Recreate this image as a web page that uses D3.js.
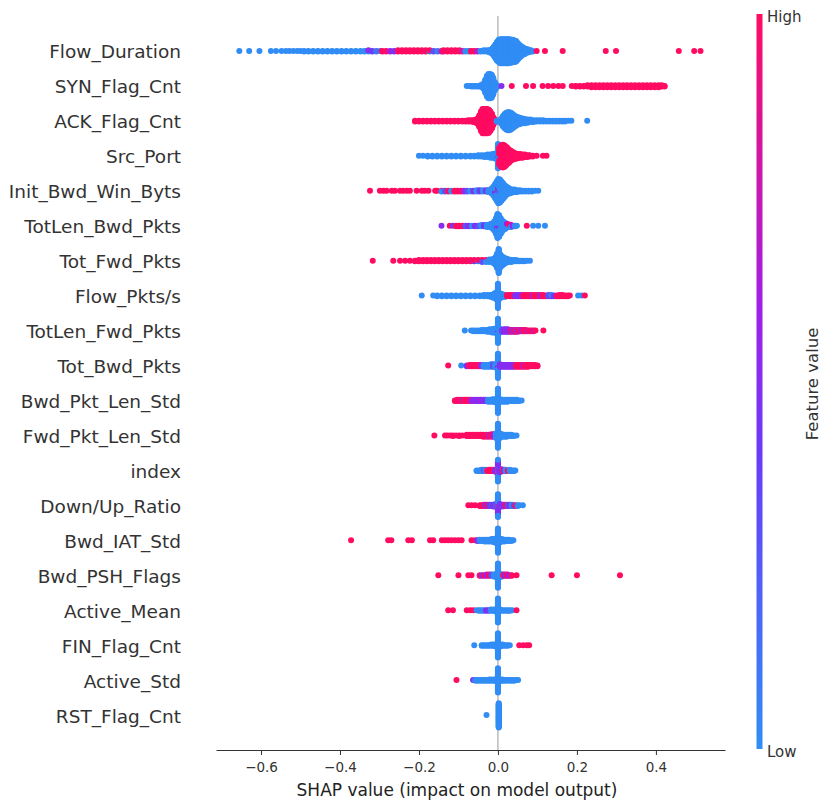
<!DOCTYPE html>
<html><head><meta charset="utf-8">
<script src="https://cdn.jsdelivr.net/npm/d3@7"></script>
<style>body{margin:0;background:#fff} svg{display:block}</style>
</head><body>
<svg id="chart" width="830" height="808"></svg>
<script>
// ---------- DATA ----------
// each entry: [SHAP value, normalised feature value (0 = low, 1 = high), number of points in that stack]
const features = ["Flow_Duration","SYN_Flag_Cnt","ACK_Flag_Cnt","Src_Port","Init_Bwd_Win_Byts","TotLen_Bwd_Pkts","Tot_Fwd_Pkts","Flow_Pkts/s","TotLen_Fwd_Pkts","Tot_Bwd_Pkts","Bwd_Pkt_Len_Std","Fwd_Pkt_Len_Std","index","Down/Up_Ratio","Bwd_IAT_Std","Bwd_PSH_Flags","Active_Mean","FIN_Flag_Cnt","Active_Std","RST_Flag_Cnt"];

const flowDuration = [
 [-0.655,0,1],[-0.63,0,1],[-0.604,0,1],[-0.575,0,1],[-0.562,0,1],[-0.548,0,1],[-0.537,0,1],[-0.528,0,1],[-0.518,0,1],[-0.508,0,1],[-0.5,0,1],[-0.491,0,2],
 [-0.48,0,2],[-0.468,0,2],[-0.456,0,2],[-0.444,0,2],[-0.432,0,2],[-0.42,0,2],[-0.408,0,2],[-0.396,0,2],[-0.384,0,2],[-0.372,0,2],[-0.36,0,2],[-0.348,0,2],[-0.338,0,2],
 [-0.328,0.55,2],[-0.328,0,1],[-0.318,0.4,2],[-0.308,0.15,2],[-0.298,0.2,1],[-0.293,1,2],[-0.283,1,2],[-0.273,0.6,2],[-0.263,0.45,2],
 [-0.253,1,3],[-0.243,1,3],[-0.233,1,3],[-0.223,1,3],[-0.213,1,3],[-0.203,1,3],[-0.193,1,3],[-0.183,1,3],[-0.173,1,2],[-0.173,0,1],
 [-0.163,0.3,2],[-0.153,0.1,2],[-0.143,0.7,2],[-0.138,1,3],[-0.128,1,3],[-0.118,1,3],[-0.108,1,3],[-0.098,1,3],[-0.09,0.8,2],
 [-0.082,0,2],[-0.074,0,2],[-0.068,1,2],[-0.06,1,2],[-0.052,0.7,2],[-0.044,0,2],[-0.036,0,3],[-0.028,0,3],[-0.022,0,4],
 [-0.018,0,6],[-0.014,0,10],[-0.01,0,16],[-0.006,0,24],[-0.002,0,32],[0.002,0,37],[0.006,0,40],[0.01,0,40],[0.014,0,40],[0.018,0,40],[0.022,0,40],[0.026,0,40],[0.03,0,39],[0.034,0,38],[0.038,0,37],[0.042,0,36],
 [0.046,0,34],[0.05,0,28],[0.054,0,22],[0.058,0,18],[0.063,0,13],[0.068,0,10],[0.073,0,7],[0.078,0,5],[0.083,0,3],[0.088,0,2],
 [0.098,1,1],[0.119,1,1],[0.164,1,1],[0.273,1,1],[0.299,1,1],[0.458,1,1],[0.497,1,1],[0.513,1,1]
];
const synFlagCnt = [
 [-0.079,0,1],[-0.073,0,1],[-0.067,0,2],[-0.061,0,2],[-0.055,0,2],[-0.049,0,2],[-0.044,0,3],[-0.04,0,5],[-0.036,0,10],[-0.032,0,22],[-0.028,0,34],[-0.024,0,40],[-0.02,0,40],[-0.016,0,38],[-0.012,0,28],[-0.008,0,14],[-0.004,0,6],[-0.001,0,2],
 [0.009,0.5,1],[0.035,1,1],[0.071,1,1],[0.089,1,1],[0.113,1,1],[0.127,1,1],[0.14,1,1],[0.153,1,1],[0.164,1,1],
 [0.187,1,1],[0.197,1,2],[0.207,1,2],[0.217,1,2],[0.227,1,3],[0.237,1,4],[0.247,1,4],[0.257,1,4],[0.267,1,4],[0.277,1,4],[0.287,1,4],[0.297,1,4],[0.307,1,4],[0.317,1,4],[0.327,1,4],
 [0.337,1,4],[0.347,1,4],[0.357,1,4],[0.367,1,4],[0.377,1,4],[0.387,1,4],[0.397,1,4],[0.407,1,4],[0.415,1,3],[0.422,1,2]
];
const ackFlagCnt = [
 [-0.21,1,2],[-0.2,1,2],[-0.19,1,2],[-0.18,1,2],[-0.17,1,2],[-0.16,1,2],[-0.15,1,2],[-0.14,1,2],[-0.13,1,2],[-0.12,1,2],[-0.11,1,2],[-0.1,1,2],[-0.09,1,2],
 [-0.082,1,2],[-0.075,1,3],[-0.068,1,3],[-0.062,1,4],[-0.056,1,6],[-0.051,1,10],[-0.047,1,20],[-0.043,1,32],[-0.039,1,40],[-0.035,1,40],[-0.031,1,40],[-0.027,1,40],[-0.023,1,38],[-0.019,1,32],[-0.015,1,24],[-0.012,1,14],[-0.009,1,7],[-0.006,1,3],
 [-0.003,0,2],[0.001,0,2],[0.005,0,4],[0.009,0,10],[0.013,0,18],[0.017,0,24],[0.021,0,28],[0.025,0,30],[0.029,0,30],[0.033,0,28],[0.037,0,24],[0.041,0,20],[0.046,0,16],[0.051,0,13],[0.056,0,11],[0.062,0,9],[0.068,0,8],
 [0.075,0,6],[0.082,0,5],[0.09,0,4],[0.098,0,3],[0.106,0,3],[0.114,0,3],[0.122,0,2],[0.13,0,2],[0.138,0,2],[0.146,0,2],[0.154,0,2],[0.162,0,2],[0.17,0,2],[0.178,0,1],[0.186,0,1],[0.226,0,1]
];
const srcPort = [
 [-0.2,0,1],[-0.19,0,1],[-0.178,0,2],[-0.166,0,2],[-0.154,0,2],[-0.142,0,2],[-0.13,0,2],[-0.118,0,2],[-0.106,0,2],[-0.094,0,2],[-0.082,0,2],[-0.07,0,2],[-0.06,0,2],
 [-0.05,0,3],[-0.042,0,3],[-0.034,0,4],[-0.026,0,5],[-0.019,0,6],[-0.013,0,7],[-0.008,0,8],[-0.004,0,10],[0,0,36],[0,0.5,4],
 [0.004,1,24],[0.004,0,6],[0.008,1,36],[0.012,1,38],[0.016,1,36],[0.02,1,32],[0.024,1,27],[0.028,1,22],[0.033,1,17],[0.038,1,13],[0.044,1,10],[0.05,1,8],[0.056,1,7],[0.062,1,6],[0.068,1,5],[0.074,1,4],[0.08,1,3],[0.088,1,2],[0.098,1,1],[0.114,1,1],[0.123,1,1]
];
const initBwdWinByts = [
 [-0.324,1,1],[-0.299,1,1],[-0.29,1,1],[-0.282,1,1],[-0.269,1,1],[-0.261,1,1],[-0.248,1,1],[-0.24,1,1],[-0.231,1,1],[-0.223,1,1],[-0.206,1,1],[-0.193,1,1],[-0.185,1,1],[-0.176,1,1],[-0.159,1,1],[-0.154,1,1],
 [-0.143,1,1],[-0.143,0,1],[-0.134,0.3,2],[-0.126,1,2],[-0.118,0,2],[-0.11,1,2],[-0.102,1,2],[-0.094,1,2],[-0.086,0.6,2],[-0.078,0.3,2],[-0.07,0,2],[-0.062,0.5,2],[-0.054,0,3],[-0.046,0.4,3],[-0.038,0,3],[-0.03,0.5,3],[-0.024,0,4],[-0.019,0,6],
 [-0.015,0,10],[-0.011,0,16],[-0.007,0,18],[-0.007,0.45,6],[-0.003,0,26],[-0.003,0.45,6],[0.001,0,31],[0.001,0.45,6],[0.001,1,3],[0.005,0,32],[0.005,0.45,6],[0.009,0,32],[0.013,0,26],[0.017,0,20],[0.021,0,15],[0.026,0,11],[0.031,0,8],
 [0.036,0,6],[0.042,0,5],[0.048,0,4],[0.055,0,3],[0.062,0,2],[0.07,0,2],[0.078,0,2],[0.086,0,2],[0.094,0,1],[0.102,0,1]
];
const totLenBwdPkts = [
 [-0.143,0.5,1],[-0.122,1,1],[-0.114,0.4,1],[-0.106,1,2],[-0.098,1,2],[-0.09,1,2],[-0.082,0.3,2],[-0.074,0.5,2],[-0.066,0,2],[-0.058,0.5,2],[-0.05,0.3,2],[-0.042,0,3],[-0.035,0.4,3],[-0.028,0,4],[-0.022,0,5],
 [-0.017,0,7],[-0.013,0,10],[-0.009,0,16],[-0.005,0,26],[-0.001,0,34],[-0.001,0.5,6],[0.003,0,30],[0.003,0.5,6],[0.007,0,22],[0.007,0.5,4],[0.011,0,18],[0.015,0,13],[0.019,0,10],
 [0.023,0.6,4],[0.023,0,3],[0.028,1,3],[0.028,0,2],[0.033,0.8,2],[0.033,0,2],[0.038,0.6,2],[0.043,0,2],[0.048,0,1],[0.073,1,1],[0.089,0,1],[0.102,0,1],[0.119,0,1]
];
const totFwdPkts = [
 [-0.317,1,1],[-0.265,1,1],[-0.248,1,1],[-0.235,1,1],[-0.223,1,1],[-0.21,1,2],[-0.2,1,3],[-0.19,1,3],[-0.18,1,3],[-0.17,1,3],[-0.16,1,3],[-0.15,1,3],[-0.14,1,3],[-0.13,1,3],[-0.12,1,3],[-0.11,1,3],[-0.1,1,3],[-0.09,1,3],[-0.08,1,3],
 [-0.07,1,3],[-0.06,1,2],[-0.06,0.4,1],[-0.05,1,2],[-0.05,0,1],[-0.04,1,2],[-0.04,0.3,2],[-0.03,1,2],[-0.03,0,2],[-0.022,1,2],[-0.022,0,3],[-0.016,0,5],[-0.011,0,8],[-0.006,0,14],[-0.002,0,24],
 [0.002,0,40],[0.006,0,22],[0.01,0,16],[0.014,0,12],[0.018,0,9],[0.023,0,7],[0.028,0,5],[0.034,0,4],[0.04,0,3],[0.046,0,3],[0.053,0,2],[0.06,0,2],[0.067,0,2],[0.074,0,1],[0.081,0,1]
];
const flowPktsS = [
 [-0.193,0,1],[-0.164,0,1],[-0.154,0,2],[-0.142,0,2],[-0.13,0,2],[-0.118,0,2],[-0.106,0,2],[-0.094,0,2],[-0.082,0,2],[-0.07,0,2],[-0.058,0,2],[-0.046,0,2],[-0.036,0,3],[-0.027,0,3],[-0.019,0,4],[-0.013,0,6],[-0.008,0,9],[-0.004,0,12],
 [0,0,40],[0.004,0,10],[0.008,0,7],[0.013,0,5],[0.018,0,4],
 [0.023,1,3],[0.03,1,3],[0.037,1,3],[0.044,0.5,3],[0.051,0.45,3],[0.058,0.6,3],[0.065,1,3],[0.072,1,3],[0.079,1,3],[0.086,0.8,3],[0.093,1,3],[0.1,1,3],[0.107,0.7,3],[0.114,1,3],[0.121,1,2],
 [0.128,0.3,3],[0.135,0.1,2],[0.135,0.5,1],[0.142,0.4,2],[0.149,1,2],[0.156,1,3],[0.163,1,3],[0.17,1,2],[0.177,1,2],[0.182,1,1],[0.203,0,1],[0.212,0,1],[0.22,1,1]
];
const totLenFwdPkts = [
 [-0.084,0,1],[-0.068,0,1],[-0.062,0,2],[-0.055,0,2],[-0.048,0,2],[-0.041,0,3],[-0.034,0,3],[-0.027,0,4],[-0.021,0,5],[-0.015,0,6],[-0.01,0,7],[-0.005,0,8],[0,0,36],[0,0.5,4],
 [0.005,0,5],[0.005,1,2],[0.01,0.3,4],[0.015,0.5,5],[0.02,0.55,5],[0.025,0.5,5],[0.03,0.6,4],[0.035,1,4],[0.04,0.5,4],[0.045,1,4],[0.05,0.7,4],[0.055,1,3],[0.06,0.6,3],[0.065,1,3],[0.07,1,3],[0.075,0.8,2],[0.08,1,2],[0.085,1,2],[0.09,0.8,2],[0.095,1,1],[0.115,1,1]
];
const totBwdPkts = [
 [-0.126,1,1],[-0.093,0,1],[-0.079,0.5,2],[-0.072,1,3],[-0.066,1,3],[-0.06,1,3],[-0.054,1,3],[-0.048,1,3],[-0.042,0.6,3],[-0.036,0,4],[-0.03,0,4],[-0.024,0,4],[-0.018,0,5],[-0.012,0.3,5],[-0.006,0,6],[0,0,34],[0,0.5,6],
 [0.005,0.5,5],[0.01,0.45,4],[0.015,0.55,4],[0.02,0.5,4],[0.025,0.4,4],[0.03,0.6,4],[0.035,0.5,4],[0.04,0.5,4],[0.046,1,4],[0.052,1,4],[0.058,1,4],[0.064,0.8,4],[0.07,1,4],[0.076,1,4],[0.082,1,3],[0.088,1,3],[0.094,1,3],[0.1,1,2]
];
const bwdPktLenStd = [
 [-0.109,1,2],[-0.103,1,3],[-0.097,1,3],[-0.091,0.8,3],[-0.085,1,3],[-0.079,1,3],[-0.073,1,3],[-0.067,0.6,3],[-0.061,0.5,3],[-0.055,0.55,3],[-0.049,0.5,3],[-0.043,0.6,3],[-0.037,0.45,3],[-0.031,0.5,3],
 [-0.025,0,4],[-0.019,0,4],[-0.013,0,5],[-0.007,0,6],[0,0,40],[0.006,0,5],[0.012,0,4],[0.018,0,4],[0.024,0,4],[0.03,0,3],[0.036,0,3],[0.042,0,3],[0.048,0,3],[0.054,0,2],[0.06,0,1]
];
const fwdPktLenStd = [
 [-0.161,1,1],[-0.134,1,1],[-0.128,1,1],[-0.121,1,1],[-0.114,1,2],[-0.106,1,1],[-0.098,1,2],[-0.09,1,1],[-0.079,1,3],[-0.072,1,3],[-0.065,1,3],[-0.058,1,3],[-0.051,1,3],[-0.044,1,3],[-0.037,1,4],[-0.03,1,4],[-0.023,0.8,4],[-0.016,1,5],[-0.01,0.6,5],[-0.005,0,8],
 [0,0,38],[0,1,2],[0.005,0,8],[0.01,0,5],[0.016,0,4],[0.022,0,4],[0.028,0,3],[0.034,0,3],[0.04,0,2],[0.047,0,1]
];
const indexCol = [
 [-0.054,0,2],[-0.048,0,2],[-0.042,0,3],[-0.036,0.2,3],[-0.03,0,3],[-0.027,1,2],[-0.022,1,3],[-0.017,1,3],[-0.012,1,3],[-0.007,0.5,4],[-0.003,0.6,6],[0,0.5,14],[0,0,16],[0,1,6],
 [0.004,0.5,6],[0.008,0.4,5],[0.012,1,3],[0.016,0.5,3],[0.02,0,3],[0.025,1,2],[0.03,0,3],[0.035,0,2],[0.04,0,2],[0.044,0,1]
];
const downUpRatio = [
 [-0.075,1,1],[-0.067,1,1],[-0.058,1,1],[-0.046,1,2],[-0.041,1,2],[-0.036,1,3],[-0.031,0.5,3],[-0.026,1,3],[-0.021,0.45,3],[-0.016,0.3,3],[-0.011,0.5,4],[-0.006,0.3,5],[0,0,20],[0,0.5,14],[0,1,4],
 [0.005,0.5,5],[0.01,0.4,4],[0.015,0.6,3],[0.02,1,3],[0.025,0.3,3],[0.03,0.5,3],[0.035,0,3],[0.04,0.3,2],[0.045,1,2],[0.05,0,2],[0.055,0,1],[0.063,0,1]
];
const bwdIatStd = [
 [-0.372,1,1],[-0.278,1,1],[-0.27,1,1],[-0.227,1,1],[-0.218,1,1],[-0.172,1,1],[-0.164,1,1],[-0.142,1,1],[-0.134,1,1],[-0.126,1,1],[-0.118,1,1],[-0.109,1,1],[-0.1,1,1],[-0.092,1,1],[-0.067,1,1],[-0.058,1,1],
 [-0.052,0.5,2],[-0.046,0,3],[-0.04,0,3],[-0.034,0,4],[-0.028,0,4],[-0.022,0,4],[-0.016,0,5],[-0.01,0,6],[-0.005,0,8],[0,0,40],[0.005,0,6],[0.01,0,5],[0.016,0,4],[0.022,0,3],[0.028,0,3],[0.034,0,2],[0.039,0,1]
];
const bwdPshFlags = [
 [-0.151,1,1],[-0.1,1,1],[-0.075,1,1],[-0.067,1,1],[-0.046,1,2],[-0.04,0.5,2],[-0.034,1,2],[-0.028,0.6,3],[-0.022,1,3],[-0.016,0.3,3],[-0.01,0,4],[-0.005,0,6],[0,0,38],[0,0.5,2],
 [0.005,0,6],[0.01,0,4],[0.014,1,3],[0.019,0.5,3],[0.024,1,3],[0.029,0.6,2],[0.035,1,2],[0.047,1,1],[0.136,1,1],[0.2,1,1],[0.309,1,1]
];
const activeMean = [
 [-0.126,1,1],[-0.114,1,1],[-0.079,1,1],[-0.07,1,1],[-0.062,1,1],[-0.054,0,1],[-0.048,0,2],[-0.042,0,2],[-0.036,0,2],[-0.03,0.5,2],[-0.024,0.45,2],[-0.018,0,3],[-0.012,0,3],[-0.006,0,4],[0,0,40],
 [0.006,0,3],[0.012,0,2],[0.018,0,2],[0.024,0,2],[0.03,0,2],[0.036,0,1],[0.047,1,1]
];
const finFlagCnt = [
 [-0.06,0,1],[-0.041,0,2],[-0.035,0,2],[-0.029,0,2],[-0.023,0,2],[-0.017,0,3],[-0.011,0,3],[-0.006,0,4],[0,0,40],[0.006,0,4],[0.012,0,3],[0.018,0,2],[0.024,0,2],[0.03,0,1],
 [0.054,1,1],[0.064,1,1],[0.073,1,1],[0.079,1,1]
];
const activeStd = [
 [-0.105,1,1],[-0.063,0.5,1],[-0.057,0,2],[-0.051,0,2],[-0.045,0,2],[-0.039,0,2],[-0.033,0,2],[-0.027,0,2],[-0.021,0,3],[-0.015,0,3],[-0.009,0,3],[-0.004,0,4],[0,0,40],
 [0.005,0,4],[0.011,0,3],[0.017,0,2],[0.023,0,2],[0.029,0,2],[0.035,0,2],[0.041,0,2],[0.047,0,1],[0.051,0,1]
];
const rstFlagCnt = [
 [-0.029,0,1],[0.002,0,40]
];

const rows = [flowDuration, synFlagCnt, ackFlagCnt, srcPort, initBwdWinByts, totLenBwdPkts, totFwdPkts, flowPktsS, totLenFwdPkts, totBwdPkts, bwdPktLenStd, fwdPktLenStd, indexCol, downUpRatio, bwdIatStd, bwdPshFlags, activeMean, finFlagCnt, activeStd, rstFlagCnt];

const xTicks = [-0.6, -0.4, -0.2, 0.0, 0.2, 0.4];
const xLabel = "SHAP value (impact on model output)";
const colorbarLabels = {high: "High", low: "Low", title: "Feature value"};

// ---------- CHART ----------
const FONT = "DejaVu Sans";
const svg = d3.select("#chart");
const x = d3.scaleLinear().domain([-0.714, 0.575]).range([216, 725]);
const y = d3.scaleLinear().domain([-1, features.length]).range([750, 16]);
const color = d3.scaleLinear().domain([0, 0.4, 0.6, 1])
  .range(["#318df5", "#6a3cf8", "#a020e8", "#ff0c62"]).clamp(true);
const LAYER = 0.62; // px per stacked point

// zero line
svg.append("line").attr("x1", x(0)).attr("x2", x(0)).attr("y1", 16).attr("y2", 750)
  .attr("stroke", "#999").attr("stroke-width", 1);

// beeswarm layout (stacks points that share an x value, alternating up/down)
const points = [];
rows.forEach((entries, i) => {
  const pos = features.length - 1 - i;
  const groups = d3.group(entries, d => d[0]);
  for (const [sv, list] of groups) {
    const remaining = list.map(e => e[2]);
    let k = 0, any = true;
    while (any) {
      any = false;
      list.forEach((e, j) => {
        if (remaining[j] > 0) {
          remaining[j]--;
          const off = Math.ceil(k / 2) * ((k % 2) * 2 - 1);
          points.push({sv, fv: e[1], pos, off});
          k++; any = true;
        }
      });
    }
  }
});

svg.append("g").selectAll("circle").data(points).join("circle")
  .attr("cx", d => x(d.sv))
  .attr("cy", d => y(d.pos) + d.off * LAYER)
  .attr("r", 3)
  .attr("fill", d => color(d.fv));

// feature labels
svg.append("g").selectAll("text").data(features).join("text")
  .attr("x", 181)
  .attr("y", (d, i) => y(features.length - 1 - i) + 7.5)
  .attr("text-anchor", "end")
  .attr("font-family", FONT).attr("font-size", 18.5).attr("fill", "#333")
  .text(d => d);

// x axis
const ax = svg.append("g").attr("transform", "translate(0,750)")
  .call(d3.axisBottom(x).tickValues(xTicks).tickFormat(d3.format(".1f")).tickSize(5).tickSizeOuter(0).tickPadding(7));
ax.select(".domain").attr("stroke", "#333");
ax.selectAll(".tick line").attr("stroke", "#333");
ax.selectAll(".tick text").attr("font-family", FONT).attr("font-size", 13.5).attr("fill", "#333");

svg.append("text").attr("x", 457).attr("y", 796).attr("text-anchor", "middle")
  .attr("font-family", FONT).attr("font-size", 17).attr("fill", "#222").text(xLabel);

// colorbar
const defs = svg.append("defs");
const grad = defs.append("linearGradient").attr("id", "cb").attr("x1", 0).attr("x2", 0).attr("y1", 1).attr("y2", 0);
d3.range(0, 1.0001, 0.05).forEach(t => grad.append("stop").attr("offset", t).attr("stop-color", color(t)));
svg.append("rect").attr("x", 756.5).attr("y", 14).attr("width", 6).attr("height", 735).attr("fill", "url(#cb)");
svg.append("text").attr("x", 767).attr("y", 21.5).attr("font-family", FONT).attr("font-size", 15).attr("fill", "#333").text(colorbarLabels.high);
svg.append("text").attr("x", 767).attr("y", 757).attr("font-family", FONT).attr("font-size", 15).attr("fill", "#333").text(colorbarLabels.low);
svg.append("text").attr("transform", "translate(818,384) rotate(-90)").attr("text-anchor", "middle")
  .attr("font-family", FONT).attr("font-size", 16.5).attr("fill", "#333").text(colorbarLabels.title);
</script>
</body></html>
